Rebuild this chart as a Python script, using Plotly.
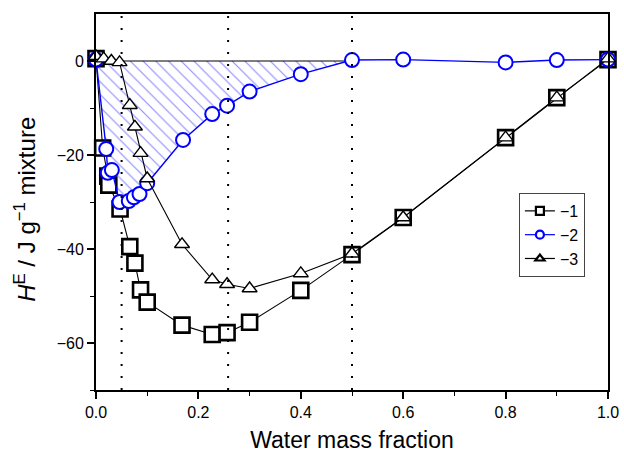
import plotly.graph_objects as go

# ---- data ----
x_sq = [0, 0.013, 0.023, 0.025, 0.047, 0.066, 0.076, 0.087, 0.1, 0.168, 0.227, 0.256, 0.3, 0.4, 0.5, 0.6, 0.8, 0.9, 1.0]
y_sq = [0.5, -18.5, -24.5, -26.4, -31.5, -39.5, -43, -48.7, -51.3, -56.2, -58.2, -57.8, -55.6, -48.8, -41.2, -33.3, -16.3, -7.8, 0.3]

x_ci = [0, 0.02, 0.023, 0.031, 0.046, 0.064, 0.074, 0.085, 0.1, 0.17, 0.227, 0.256, 0.3, 0.4, 0.5, 0.6, 0.8, 0.9, 1.0]
y_ci = [0.3, -18.7, -23.8, -23.2, -30, -29.8, -29, -28.3, -26, -16.8, -11.3, -9.5, -6.5, -2.8, 0.2, 0.3, -0.3, 0.2, 0.3]

x_tr = [0, 0.015, 0.03, 0.046, 0.066, 0.076, 0.087, 0.1, 0.168, 0.227, 0.256, 0.3, 0.4, 0.5, 0.6, 0.8, 0.9, 1.0]
y_tr = [1, 0.5, 0, -0.3, -9.4, -14, -19.6, -25, -39, -46.5, -47.5, -48.4, -45.2, -41, -33.3, -16.3, -7.8, 0.5]

series_names = ["\u22121", "\u22122", "\u22123"]
vlines_x = [0.05, 0.258, 0.5]
hatch_end_x = 0.5

x_ticks = [0, 0.2, 0.4, 0.6, 0.8, 1.0]
y_ticks = [-60, -40, -20, 0]

BLUE = "rgb(0,0,255)"
FONT = "Liberation Sans, Arial, sans-serif"

fig = go.Figure()

# hatched area between curve 2 and zero, up to x=0.5
n = next(i for i, v in enumerate(x_ci) if v >= hatch_end_x)
poly_x = x_ci[:n + 1] + [x_ci[n], x_ci[0]]
poly_y = y_ci[:n + 1] + [0, 0]
fig.add_trace(go.Scatter(
    x=poly_x, y=poly_y, mode="lines", fill="toself",
    line=dict(width=0, color="rgba(0,0,0,0)"),
    fillcolor="rgba(0,0,0,0)",
    fillpattern=dict(shape="\\", fgcolor="rgb(20,20,255)", bgcolor="rgba(255,255,255,0)",
                     size=9, solidity=0.12),
    showlegend=False, hoverinfo="skip"))

# zero line across the hatched region
fig.add_trace(go.Scatter(
    x=[x_ci[0], x_ci[n]], y=[0, 0], mode="lines",
    line=dict(color="black", width=1.2), showlegend=False, hoverinfo="skip"))

# main series
fig.add_trace(go.Scatter(
    x=x_sq, y=y_sq, mode="lines+markers", cliponaxis=False,
    line=dict(color="black", width=1.1),
    marker=dict(symbol="square", size=15, color="white", line=dict(color="black", width=2.6)),
    showlegend=False))
fig.add_trace(go.Scatter(
    x=x_ci, y=y_ci, mode="lines+markers", cliponaxis=False,
    line=dict(color=BLUE, width=1.4),
    marker=dict(symbol="circle", size=14, color="white", line=dict(color=BLUE, width=2)),
    showlegend=False))
fig.add_trace(go.Scatter(
    x=x_tr, y=y_tr, mode="lines+markers", cliponaxis=False,
    line=dict(color="black", width=1.1),
    marker=dict(symbol="triangle-up", size=13, color="white", line=dict(color="black", width=1.4)),
    showlegend=False))

# legend entries (small markers as in the reference)
leg_styles = [
    dict(color="black", symbol="square"),
    dict(color=BLUE, symbol="circle"),
    dict(color="black", symbol="triangle-up"),
]
for name, st in zip(series_names, leg_styles):
    fig.add_trace(go.Scatter(
        x=[None], y=[None], mode="lines+markers", name=name,
        line=dict(color=st["color"], width=1.2),
        marker=dict(symbol=st["symbol"], size=8, color="white",
                    line=dict(color=st["color"], width=2.2))))

# dotted vertical guide lines
for xv in vlines_x:
    fig.add_shape(type="line", xref="x", yref="paper", x0=xv, x1=xv, y0=0, y1=1,
                  line=dict(color="black", width=2, dash="2px,10px"), layer="above")

# y-axis title
fig.add_annotation(
    text="<i>H</i><sup>E</sup> / J g<sup>\u22121</sup> mixture",
    xref="paper", yref="paper", x=-0.14, y=0.48, xanchor="center", yanchor="middle",
    textangle=-90, showarrow=False, font=dict(size=24))

fig.update_layout(
    width=624, height=455,
    margin=dict(l=96, r=16, t=14, b=65),
    paper_bgcolor="white", plot_bgcolor="white",
    font=dict(family=FONT, size=16, color="black"),
    legend=dict(x=0.826, y=0.524, xanchor="left", yanchor="top",
                bgcolor="white", bordercolor="#444", borderwidth=1,
                font=dict(size=16), tracegroupgap=0, itemsizing="trace"),
    xaxis=dict(range=[0, 1], tickvals=x_ticks, ticktext=[f"{v:.1f}" for v in x_ticks],
               ticks="outside", ticklen=7, tickwidth=1.5, tickcolor="black",
               minor=dict(dtick=0.1, ticks="outside", ticklen=4, tickwidth=1.2, tickcolor="black"),
               showline=True, linecolor="black", linewidth=1.8, mirror=True,
               showgrid=False, zeroline=False, automargin=False,
               title=dict(text="Water mass fraction", font=dict(size=23), standoff=12)),
    yaxis=dict(range=[-70, 10], tickvals=y_ticks,
               ticks="outside", ticklen=7, tickwidth=1.5, tickcolor="black",
               minor=dict(tickvals=[-70, -50, -30, -10], ticks="outside", ticklen=4, tickwidth=1.2, tickcolor="black"),
               showline=True, linecolor="black", linewidth=1.8, mirror=True,
               showgrid=False, zeroline=False, automargin=False),
)

fig.write_html("out.html")
